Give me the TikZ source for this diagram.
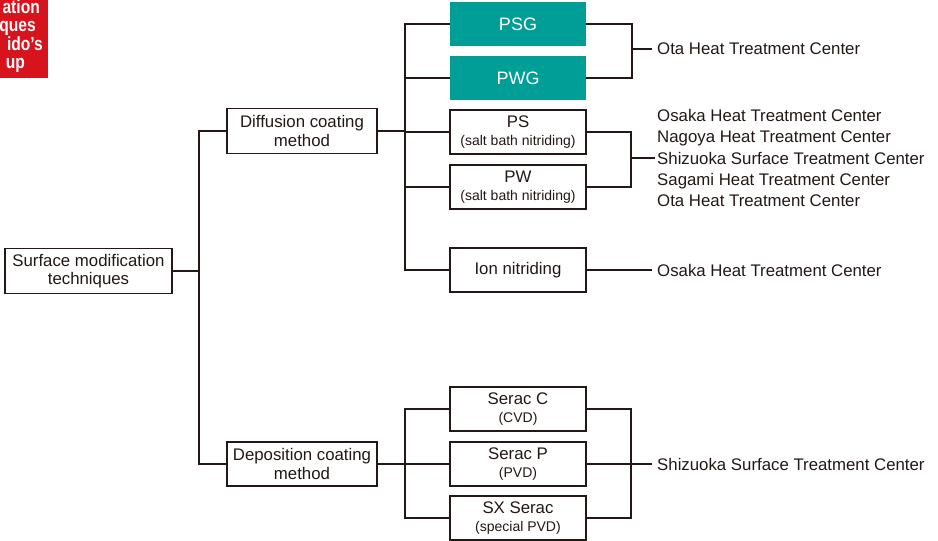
\documentclass[tikz,border=0pt]{standalone}
\usepackage{fontspec}
\setmainfont{Liberation Sans}
\newfontfamily\condbold[FakeStretch=0.82]{Liberation Sans Bold}
\definecolor{ink}{RGB}{35,24,21}
\definecolor{teal}{RGB}{0,158,150}
\definecolor{redbox}{RGB}{215,20,30}
\newcommand{\sml}{\fontsize{14}{16}\selectfont}
\begin{document}
\begin{tikzpicture}[x=1pt,y=-1pt,
  box/.style={draw=ink,line width=1.2pt,fill=white,text=ink,align=center,inner sep=0pt,font=\fontsize{16.8}{18.5}\selectfont},
  tealbox/.style={fill=teal,text=white,inner sep=0pt,font=\fontsize{18}{19}\selectfont,minimum width=136pt,minimum height=44pt},
  conn/.style={draw=ink,line width=1.2pt},
  lab/.style={text=ink,anchor=west,align=left,inner sep=0pt,font=\fontsize{16.8}{21.3}\selectfont},
  redtxt/.style={text=white,anchor=base east,inner sep=0pt,font=\condbold\fontsize{19}{19}\selectfont}]
\useasboundingbox (0,0) rectangle (938,541);
% red corner box
\fill[redbox] (0,0) rectangle (48,78);
\node[redtxt] (r1) at (40,13) {ation};
\node[redtxt] (r2) at (36,31.5) {ques};
\node[redtxt] (r3) at (43,50) {ido’s};
\node[redtxt] (r4) at (25,68) {up};
% boxes
\node[box,minimum width=167pt,minimum height=45pt] (smt) at (88.5,271) {Surface modification\\techniques};
\node[box,minimum width=150pt,minimum height=45pt] (dcm) at (302,131) {Diffusion coating\\method};
\node[box,minimum width=150pt,minimum height=44pt] (dep) at (302,464) {Deposition coating\\method};
\node[tealbox] (psg) at (518,24) {PSG};
\node[tealbox] (pwg) at (518,78) {PWG};
\node[box,minimum width=136pt,minimum height=44pt] (ps) at (518,132) {PS\\{\sml(salt bath nitriding)}};
\node[box,minimum width=136pt,minimum height=44pt] (pw) at (518,187) {PW\\{\sml(salt bath nitriding)}};
\node[box,minimum width=136pt,minimum height=44pt] (ion) at (518,270) {Ion nitriding};
\node[box,minimum width=136pt,minimum height=44pt] (serc) at (518,409) {Serac C\\{\sml(CVD)}};
\node[box,minimum width=136pt,minimum height=44pt] (serp) at (518,464) {Serac P\\{\sml(PVD)}};
\node[box,minimum width=136pt,minimum height=44pt] (sx) at (518,518) {SX Serac\\{\sml(special PVD)}};
% labels
\node[lab] (ota1) at (657,49) {Ota Heat Treatment Center};
\node[lab] (five) at (657,158) {Osaka Heat Treatment Center\\Nagoya Heat Treatment Center\\Shizuoka Surface Treatment Center\\Sagami Heat Treatment Center\\Ota Heat Treatment Center};
\node[lab] (osaka) at (657,270) {Osaka Heat Treatment Center};
\node[lab] (shiz) at (657,464) {Shizuoka Surface Treatment Center};
% connectors level 1
\draw[conn] (smt.east) -- (199,271);
\draw[conn] (dcm.west) -| (199,271) |- (dep.west);
% diffusion
\draw[conn] (dcm.east) -- (405,131);
\draw[conn] (psg.west) -| (405,131);
\draw[conn] (pwg.west) -- (405,78);
\draw[conn] (ps.west) -- (405,132);
\draw[conn] (pw.west) -- (405,187);
\draw[conn] (ion.west) -| (405,131);
\draw[conn] (psg.east) -| (632,49) |- (pwg.east);
\draw[conn] (632,49) -- ([xshift=-5pt]ota1.west);
\draw[conn] (ps.east) -| (631,158) |- (pw.east);
\draw[conn] (631,158) -- ([xshift=-2pt]five.west);
\draw[conn] (ion.east) -- ([xshift=-5pt]osaka.west);
% deposition
\draw[conn] (dep.east) -- (405,464);
\draw[conn] (serc.west) -| (405,464) |- (sx.west);
\draw[conn] (serp.west) -- (405,464);
\draw[conn] (serc.east) -| (631,464) |- (sx.east);
\draw[conn] (serp.east) -- ([xshift=-5pt]shiz.west);
\end{tikzpicture}
\end{document}
